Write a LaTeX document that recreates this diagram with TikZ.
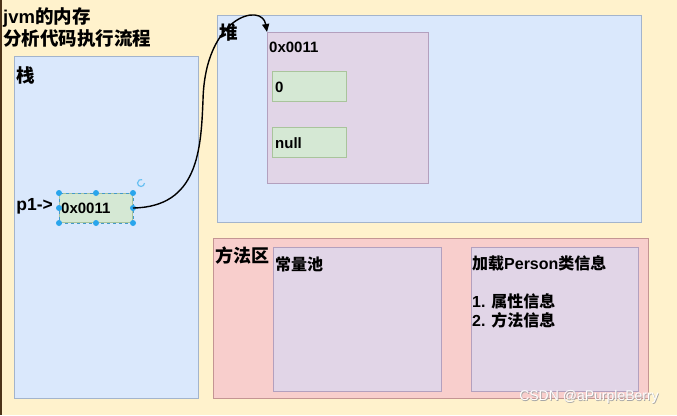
\documentclass[tikz,border=0pt]{standalone}
\usepackage{fontspec}
\setmainfont{Liberation Sans}
\newfontfamily\cjk{Noto Sans CJK SC}
\usepackage{tikz}
\usetikzlibrary{arrows.meta,calc,positioning}
\definecolor{sfondo}{HTML}{FFF2CC}
\definecolor{blu}{HTML}{DAE8FC}
\definecolor{blubordo}{HTML}{A3B4CC}
\definecolor{viola}{HTML}{E1D5E7}
\definecolor{violabordo}{HTML}{B3A0BE}
\definecolor{verde}{HTML}{D5E8D4}
\definecolor{verdebordo}{HTML}{A9C49C}
\definecolor{rosa}{HTML}{F8CECC}
\definecolor{rosabordo}{HTML}{C49593}
\definecolor{selez}{HTML}{29A5EC}

\tikzset{
  area/.style 2 args={draw=#2, fill=#1, line width=1pt, inner sep=0pt, anchor=north west},
  lbl/.style={font=\fontsize{15}{18}\selectfont\bfseries, inner sep=1pt, anchor=west},
  grande/.style={font=\fontsize{18.5}{22}\selectfont\bfseries},
  maniglia/.style={fill=selez}
}

\begin{document}
\begin{tikzpicture}[x=1pt,y=-1pt]
% sfondo
\fill[sfondo] (0,0) rectangle (677,415);
\fill[brown!40!black] (0,0) rectangle (2,415);
\useasboundingbox (0,0) rectangle (677,415);
\node[lbl, grande, align=left] (titolo) at (2,28)
  {jvm{\cjk 的内存}\\{\cjk 分析代码执行流程}};

% stack
\node[area={blu}{blubordo}, minimum width=184pt, minimum height=342pt] (stack) at (14,56) {};
\node[lbl, grande] (stacklbl) at (15,75) {\cjk 栈};
\node[area={verde}{verdebordo}, minimum width=73pt, minimum height=29pt] (ptr) at (59,193) {};
\draw[selez!70!gray, dashed] (ptr.north west) rectangle (ptr.south east);
\node[lbl, anchor=west] (ptrval) at (60,208) {0x0011};
\node[lbl, font=\fontsize{17.5}{20}\selectfont\bfseries, anchor=east] (p1) at (54,206) {p1->};
\foreach \p in {north west,north,north east,west,east,south west,south,south east}{
  \fill[maniglia] (ptr.\p) circle (3pt);
}
\draw[selez!70, line width=1.2pt] (144.5,183) arc[start angle=0, end angle=290, radius=3.5];

% heap
\node[area={blu}{blubordo}, minimum width=424pt, minimum height=207pt] (heap) at (217,15) {};
\node[lbl, grande] (heaplbl) at (218,33) {\cjk 堆};
\node[area={viola}{violabordo}, minimum width=161pt, minimum height=151pt] (heapobj) at (267,32) {};
\node[lbl] (addr) at (268,47) {0x0011};
\node[area={verde}{verdebordo}, minimum width=74pt, minimum height=30pt] (campo1) at (272,71) {};
\node[lbl] (val1) at (274,87) {0};
\node[area={verde}{verdebordo}, minimum width=74pt, minimum height=30pt] (campo2) at (272,127) {};
\node[lbl] (val2) at (274,143) {null};

% riferimento
\draw[line width=1.4pt, -{Triangle[length=8pt,width=7pt]}] (ptr.east)
  .. controls (198,207) and (201,150) .. (203,100)
  .. controls (205,16) and (262,2) .. (heapobj.north west);

% method area
\node[area={rosa}{rosabordo}, minimum width=435pt, minimum height=160pt] (metodi) at (213,238) {};
\node[lbl, font=\fontsize{18}{22}\selectfont\bfseries] (metodilbl) at (214,256) {\cjk 方法区};
\node[area={viola}{violabordo}, minimum width=168pt, minimum height=144pt] (pool) at (273,247) {};
\node[lbl, font=\fontsize{16}{19}\selectfont\bfseries] (poollbl) at (274,264) {\cjk 常量池};
\node[area={viola}{violabordo}, minimum width=167pt, minimum height=144pt] (classe) at (471,247) {};
\node[lbl, align=left, font=\fontsize{16}{19}\selectfont\bfseries] (classelbl) at (471,292)
  {{\cjk 加载}Person{\cjk 类信息}\\ \\1. {\cjk 属性信息}\\2. {\cjk 方法信息}};

% watermark
\node[font=\fontsize{14}{16}\selectfont, text=gray!70, anchor=east] (marca) at (663,398) {CSDN @aPurpleBerry};
\node[font=\fontsize{14}{16}\selectfont, text=white, anchor=east] (marca2) at (662.3,397.3) {CSDN @aPurpleBerry};
\end{tikzpicture}
\end{document}
